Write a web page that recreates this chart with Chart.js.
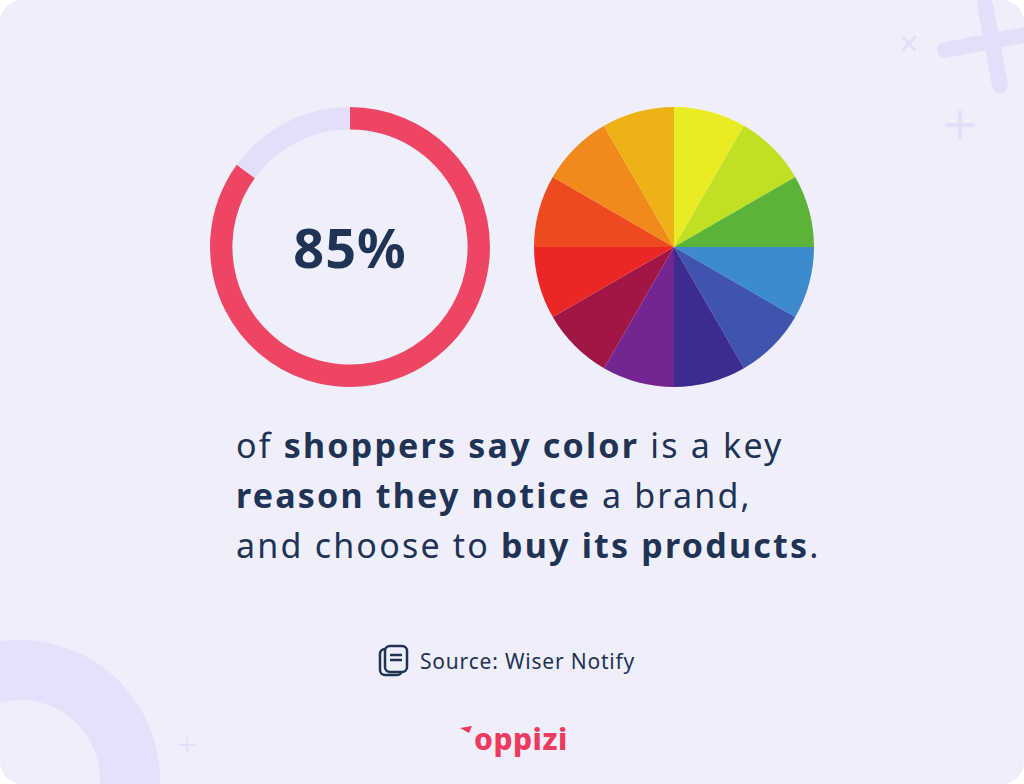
<!DOCTYPE html>
<html><head><meta charset="utf-8">
<script src="https://cdn.jsdelivr.net/npm/chart.js@4.4.1/dist/chart.umd.min.js"></script>
<style>
html,body{margin:0;padding:0;}
body{width:1024px;height:784px;overflow:hidden;background:#fff;font-family:"Noto Sans",Lato,sans-serif;}
#card{position:absolute;left:0;top:0;width:1024px;height:784px;background:#efeffc;border-radius:22px;overflow:hidden;}
.deco{position:absolute;}
#ring{position:absolute;left:210px;top:107px;width:280px;height:280px;}
#wheel{position:absolute;left:534px;top:107px;width:280px;height:280px;}
#pct{position:absolute;left:210px;top:212px;width:280px;text-align:center;font-size:54px;font-weight:700;color:#1f3354;line-height:70px;letter-spacing:1px;}
#msg{position:absolute;left:236px;top:420px;font-size:34px;line-height:50px;color:#1f3354;letter-spacing:2.2px;}
#msg b{font-weight:700;}
#src{position:absolute;left:378px;top:644px;font-size:21px;color:#1f3354;display:flex;align-items:center;gap:10px;letter-spacing:0.8px;}
#logo{position:absolute;left:474px;top:718px;font-size:30px;font-weight:800;color:#ee3a5e;letter-spacing:0.5px;}
</style></head>
<body>
<div id="card">
  <svg class="deco" width="1024" height="784" style="left:0;top:0">
    <circle cx="20" cy="780" r="110" fill="none" stroke="#e3e2fa" stroke-width="60"/>
    <g stroke="#e1e0f8" stroke-linecap="round">
      <line x1="945" y1="50" x2="1024" y2="35" stroke-width="16"/>
      <line x1="985" y1="5" x2="1000" y2="85" stroke-width="16"/>
      <line x1="903" y1="37" x2="915" y2="50" stroke-width="3"/>
      <line x1="915" y1="37" x2="903" y2="50" stroke-width="3"/>
      <line x1="960" y1="112" x2="960" y2="138" stroke-width="4"/>
      <line x1="947" y1="125" x2="973" y2="125" stroke-width="4"/>
      <line x1="187" y1="738" x2="187" y2="752" stroke-width="2"/>
      <line x1="180" y1="745" x2="194" y2="745" stroke-width="2"/>
    </g>
    <path d="M460 728 L472 726 L469 733 Z" fill="#ee3a5e"/>
  </svg>
  <div id="ring"><canvas id="ringChart"></canvas></div>
  <div id="pct">85%</div>
  <div id="wheel"><canvas id="wheelChart"></canvas></div>
  <div id="msg">of <b>shoppers say color</b> is a key<br><b>reason they notice</b> a brand,<br>and choose to <b>buy its products</b>.</div>
  <div id="src"><svg width="32" height="34" viewBox="0 0 32 34"><rect x="2" y="5" width="22" height="26" rx="5" fill="none" stroke="#1f3354" stroke-width="2.5"/><rect x="7" y="2" width="22" height="26" rx="5" fill="#efeffc" stroke="#1f3354" stroke-width="2.5"/><line x1="12" y1="11" x2="24" y2="11" stroke="#1f3354" stroke-width="2.5"/><line x1="12" y1="16" x2="24" y2="16" stroke="#1f3354" stroke-width="2.5"/></svg><span>Source: Wiser Notify</span></div>
  <div id="logo">oppizi</div>
</div>
<script>
const ringLabels = ["Shoppers citing color", "Others"];
const ringValues = [85, 15];
const ringColors = ["#ee4565", "#e2e0f8"];

const wheelLabels = ["Yellow", "Yellow-green", "Green", "Blue", "Blue-indigo", "Indigo", "Violet", "Crimson", "Red", "Red-orange", "Orange", "Amber"];
const wheelValues = [1, 1, 1, 1, 1, 1, 1, 1, 1, 1, 1, 1];
const wheelColors = ["#e9ec25", "#bfe023", "#5bb33a", "#3d8bcd", "#3f55ad", "#3e2b8e", "#732592", "#a01745", "#eb2626", "#ee4a1f", "#f08a1b", "#edb316"];

const common = {
  responsive: true,
  maintainAspectRatio: false,
  animation: false,
  plugins: { legend: { display: false }, tooltip: { enabled: false } }
};

new Chart(document.getElementById("ringChart"), {
  type: "doughnut",
  data: { labels: ringLabels, datasets: [{ data: ringValues, backgroundColor: ringColors, borderWidth: 0 }] },
  options: { ...common, cutout: "84%" }
});

new Chart(document.getElementById("wheelChart"), {
  type: "pie",
  data: { labels: wheelLabels, datasets: [{ data: wheelValues, backgroundColor: wheelColors, borderWidth: 0 }] },
  options: common
});
</script>
</body></html>
